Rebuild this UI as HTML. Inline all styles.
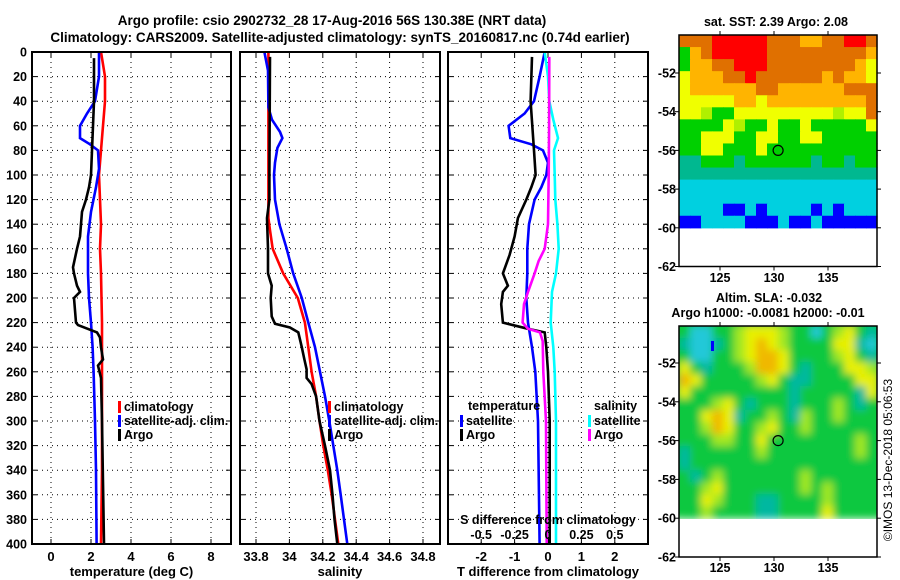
<!DOCTYPE html>
<html><head><meta charset="utf-8">
<style>
html,body{margin:0;padding:0;background:#fff;}
svg{display:block;font-family:"Liberation Sans",Arial,sans-serif;font-weight:bold;}
</style></head>
<body>
<svg id="fig" width="900" height="580" viewBox="0 0 900 580" xmlns="http://www.w3.org/2000/svg">
<defs>
<filter id="blur" x="-5%" y="-5%" width="110%" height="110%"><feGaussianBlur stdDeviation="4"/></filter>
<clipPath id="slaclip"><rect x="679" y="326" width="198" height="193"/></clipPath>
</defs>
<rect x="0" y="0" width="900" height="580" fill="#fff"/>
<text x="332" y="25" font-size="13.5" text-anchor="middle">Argo profile: csio 2902732_28 17-Aug-2016 56S 130.38E (NRT data)</text>
<text x="340" y="42" font-size="13.5" text-anchor="middle">Climatology: CARS2009. Satellite-adjusted climatology: synTS_20160817.nc (0.74d earlier)</text>
<g id="panels"></g>
<g id="maps"></g>
<text x="776" y="26" font-size="12.5" text-anchor="middle">sat. SST: 2.39 Argo: 2.08</text>
<text x="769" y="302" font-size="12.5" text-anchor="middle">Altim. SLA: -0.032</text>
<text x="768" y="317" font-size="12.5" text-anchor="middle">Argo h1000: -0.0081 h2000: -0.01</text>
<text x="0" y="0" font-size="12" font-weight="normal" text-anchor="middle" transform="translate(892,460) rotate(-90)">©IMOS 13-Dec-2018 05:06:53</text>
</svg>
<script>
// ---------- Profile data ----------
const depthTicks = [0,20,40,60,80,100,120,140,160,180,200,220,240,260,280,300,320,340,360,380,400];
const tempTicks = [0,2,4,6,8];
const salTicks = [33.8,34,34.2,34.4,34.6,34.8];
const salTickLabels = ["33.8","34","34.2","34.4","34.6","34.8"];
const tdiffTicks = [-2,-1,0,1,2];
const sdiffTicks = [-0.5,-0.25,0,0.25,0.5];
const sdiffTickLabels = ["-0.5","-0.25","0","0.25","0.5"];

const tClimDepth = [0,20,40,60,80,100,120,140,160,180,220,260,300,340,400];
const tClimVal   = [2.5,2.7,2.7,2.6,2.5,2.4,2.45,2.5,2.45,2.5,2.55,2.55,2.55,2.55,2.5];
const tSatDepth = [0,20,40,50,60,70,75,80,95,110,130,150,180,200,220,240,260,300,340,400];
const tSatVal   = [2.4,2.4,2.2,1.8,1.45,1.45,1.95,2.35,2.4,2.25,2.0,1.85,1.85,1.9,2.0,2.08,2.13,2.2,2.25,2.28];
const tArgoDepth = [5,40,60,80,100,110,120,130,150,160,175,180,190,195,200,210,220,222,228,232,240,250,255,265,300,400];
const tArgoVal   = [2.15,2.15,2.1,2.05,2.0,1.9,1.75,1.55,1.45,1.3,1.1,1.15,1.3,1.45,1.15,1.2,1.25,1.35,2.3,2.45,2.5,2.6,2.35,2.5,2.55,2.65];

const sClimDepth = [0,40,100,135,145,160,180,200,220,240,260,280,300,320,340,360,380,400];
const sClimVal   = [33.874,33.874,33.874,33.874,33.884,33.90,33.963,34.05,34.093,34.113,34.133,34.16,34.18,34.203,34.23,34.253,34.273,34.293];
const sSatDepth = [0,15,45,55,65,70,78,90,100,120,140,160,180,200,220,240,260,280,300,320,340,360,380,400];
const sSatVal   = [33.85,33.872,33.874,33.896,33.944,33.958,33.928,33.914,33.908,33.914,33.94,33.984,34.023,34.074,34.113,34.153,34.183,34.213,34.239,34.263,34.287,34.307,34.327,34.347];
const sArgoDepth = [4,100,120,135,160,180,190,200,215,221,224,228,240,250,258,265,270,280,300,320,340,360,380,400];
const sArgoVal   = [33.884,33.88,33.88,33.866,33.872,33.872,33.894,33.888,33.894,33.914,34.003,34.053,34.074,34.09,34.103,34.103,34.133,34.16,34.18,34.213,34.243,34.258,34.27,34.287];

const dTSatDepth = [0,20,40,50,60,70,75,80,90,100,110,120,140,160,180,200,220,240,260,300,400];
const dTSatVal   = [-0.1,-0.25,-0.42,-0.7,-1.18,-1.13,-0.5,-0.15,0,-0.05,-0.2,-0.4,-0.57,-0.62,-0.62,-0.65,-0.6,-0.48,-0.38,-0.3,-0.25];
const dTArgoDepth = [4,40,80,100,110,120,135,150,165,180,190,195,205,220,225,228,240,260,300,400];
const dTArgoVal   = [-0.48,-0.52,-0.42,-0.37,-0.5,-0.65,-0.9,-1.0,-1.15,-1.35,-1.2,-1.35,-1.4,-1.35,-0.6,-0.1,-0.05,0,0.05,0.05];
const dSSatDepth = [0,20,40,55,70,80,100,120,140,160,180,195,220,240,260,300,400];
const dSSatVal   = [-0.025,0,0.01,0.04,0.075,0.045,0.05,0.055,0.07,0.08,0.06,0.03,0.02,0.04,0.05,0.06,0.06];
const dSArgoDepth = [4,60,100,140,160,170,180,195,205,220,225,228,235,260,300,400];
const dSArgoVal   = [0.01,0.008,0.005,0,-0.025,-0.07,-0.1,-0.15,-0.18,-0.19,-0.15,-0.06,-0.04,-0.035,-0.015,-0.01];

// ---------- Map data ----------
const sstRows = [
"OOORRRRROOOAAOORRO",
"GAORRRRROOOOOOOOOA",
"GAAOORRROOOOOOOOAY",
"YAAAOOROOOOOOAOAAY",
"YAAAAAAOOAAAAAAOOO",
"YYYYYAAYAAAAAAAAAO",
"YYLGGYYYYYYYYYLYYO",
"GGGGYLGGYGGYGGGGGY",
"GGYYYGGYYGGYYGGGGG",
"GGYYGGGYGGGGGGGGGG",
"TTGGGTGGGGGGTGGTGG",
"TTTTTTTTTTTTTTTTTT",
"CCCCCCCCCCCCCCCCCC",
"CCCCCCCCCCCCCCCCCC",
"CCCCBBCBCCCCBCBCCC",
"BBCCCCBBBCBBCBBBBB"];
const slaRows = [
"GCCGGLYYYLGGCGLYGT",
"TCCTGLYAYLGGGGYYTC",
"GCCGGLYAAYGGGGLYGT",
"YGTGGGLAAYGTGGGYYL",
"AYGGGGGLYGTTGGGGYY",
"YGGGGGGGGGTGGGGGTY",
"GGGLYGTGGGTGGGLGTG",
"GGYAYTGGLGTLGGLGGG",
"GGLAYGGLYGGLGGGGGG",
"GGGLLGGYGGGGGGGGLG",
"TGGGGGGLGGGGGGGGLG",
"TGGGGGGGGGGGGGGGGG",
"GTGLGGGGGGGLGGGGGG",
"GGLYGGGGGGGLGLGGGG",
"GGYLGGGTTGGGGLGGGG",
"GGLGGGGTTGGGGYGGGG"];
const lonTicks = [125,130,135];
const latTicks = [-52,-54,-56,-58,-60,-62];
const argoLon = 130.38;
const argoLat = -56;

const NS = "http://www.w3.org/2000/svg";
function mk(tag, attrs, parent){const e=document.createElementNS(NS,tag);for(const k in attrs)e.setAttribute(k,attrs[k]);parent.appendChild(e);return e;}

const TOP=52, BOT=544;
function yD(d){return TOP+(BOT-TOP)*d/400;}
const panelsG=document.getElementById('panels');

function panel(name,x0,x1,fx,ticks,labels,xtitle){
  const g=mk('g',{},panelsG);
  
  
  depthTicks.forEach(d=>{ if(d>0&&d<400){const l=mk('line',{x1:x0,x2:x1,y1:yD(d),y2:yD(d),stroke:'#000','stroke-width':1,'stroke-dasharray':'1,4'},g);
    }
    mk('line',{x1:x0,x2:x0+5,y1:yD(d),y2:yD(d),stroke:'#000','stroke-width':1},g);
    mk('line',{x1:x1-5,x2:x1,y1:yD(d),y2:yD(d),stroke:'#000','stroke-width':1},g);
  });
  ticks.forEach((t,i)=>{const x=fx(t);
    const l=mk('line',{x1:x,x2:x,y1:TOP,y2:BOT,stroke:'#000','stroke-width':1,'stroke-dasharray':'1,4'},g);
    
    mk('line',{x1:x,x2:x,y1:BOT-5,y2:BOT,stroke:'#000','stroke-width':1},g);
    mk('line',{x1:x,x2:x,y1:TOP,y2:TOP+5,stroke:'#000','stroke-width':1},g);
    const tx=mk('text',{x:x,y:561,'font-size':13,'text-anchor':'middle'},g);tx.textContent=labels[i];
    
  });
  const tt=mk('text',{x:(x0+x1)/2,y:576,'font-size':13,'text-anchor':'middle'},g);tt.textContent=xtitle;
  
  return g;
}
function frame(g,x0,x1){const r=mk('rect',{x:x0,y:TOP,width:x1-x0,height:BOT-TOP,fill:'none',stroke:'#000','stroke-width':2},g);
  }
function line(g,name,depths,vals,fx,color){
  const pts=depths.map((d,i)=>fx(vals[i]).toFixed(1)+','+yD(d).toFixed(1)).join(' ');
  const p=mk('polyline',{points:pts,fill:'none',stroke:color,'stroke-width':2.6,'stroke-linejoin':'miter'},g);
  
  
}
function legend(g,x,y,color,label){
  if(color){const m=mk('rect',{x:x,y:y-10,width:3,height:12,fill:color},g);
    }
  const t=mk('text',{x:x+6,y:y,'font-size':12.5},g);t.textContent=label;
  
}

depthTicks.forEach(d=>{const t=mk('text',{x:27,y:yD(d)+4.5,'font-size':12.5,'text-anchor':'end'},panelsG);t.textContent=d;
  });

const fT=t=>51+20*t;
let g1=panel('temperature',32,231,fT,tempTicks,tempTicks.map(String),'temperature (deg C)');
line(g1,'temp-climatology-line',tClimDepth,tClimVal,fT,'#ff0000');
line(g1,'temp-satellite-line',tSatDepth,tSatVal,fT,'#0000ff');
line(g1,'temp-argo-line',tArgoDepth,tArgoVal,fT,'#000');
frame(g1,32,231);
legend(g1,118,411,'#ff0000','climatology');legend(g1,118,425,'#0000ff','satellite-adj. clim.');legend(g1,118,439,'#000','Argo');

const fS=s=>256+167*(s-33.8);
let g2=panel('salinity',240,440,fS,salTicks,salTickLabels,'salinity');
line(g2,'sal-climatology-line',sClimDepth,sClimVal,fS,'#ff0000');
line(g2,'sal-satellite-line',sSatDepth,sSatVal,fS,'#0000ff');
line(g2,'sal-argo-line',sArgoDepth,sArgoVal,fS,'#000');
frame(g2,240,440);
legend(g2,328,411,'#ff0000','climatology');legend(g2,328,425,'#0000ff','satellite-adj. clim.');legend(g2,328,439,'#000','Argo');

const fdT=v=>548+33.4*v;
const fdS=v=>548+133.6*v;
let g3=panel('difference',448,648,fdT,tdiffTicks,tdiffTicks.map(String),'T difference from climatology');
line(g3,'tdiff-satellite-line',dTSatDepth,dTSatVal,fdT,'#0000ff');
line(g3,'tdiff-argo-line',dTArgoDepth,dTArgoVal,fdT,'#000');
line(g3,'sdiff-satellite-line',dSSatDepth,dSSatVal,fdS,'#00ffff');
line(g3,'sdiff-argo-line',dSArgoDepth,dSArgoVal,fdS,'#ff00ff');
frame(g3,448,648);
legend(g3,462,410,null,'temperature');
legend(g3,460,425,'#0000ff','satellite');legend(g3,460,439,'#000','Argo');
legend(g3,588,410,null,'salinity');
legend(g3,588,425,'#00ffff','satellite');legend(g3,588,439,'#ff00ff','Argo');
{const t=mk('text',{x:548,y:524,'font-size':12.5,'text-anchor':'middle'},g3);t.textContent='S difference from climatology';
 }
sdiffTicks.forEach((v,i)=>{const t=mk('text',{x:fdS(v),y:539,'font-size':12.5,'text-anchor':'middle'},g3);t.textContent=sdiffTickLabels[i];
 });

// ---------- Maps ----------
const mapsG=document.getElementById('maps');
const sstCol={R:'#ff0000',O:'#e07000',A:'#ffb400',Y:'#f0ff00',L:'#b0f000',G:'#00d000',T:'#00b890',C:'#00d0e0',B:'#0000ff'};
const slaCol={G:'#10c840',L:'#a0e820',Y:'#e8f000',A:'#f0b800',T:'#00b8a0',C:'#20c8d8'};
const MX0=679,MX1=877;
const lonX=lon=>720+(lon-125)*10.8;
function drawMap(name,top,rows,cols,latY,lonLabelY,smooth){
  const g=mk('g',{},mapsG);
  
  
  const dataBot=latY(-60);
  const ch=(dataBot-top)/rows.length, cw=(MX1-MX0)/rows[0].length;
  let cg=g;
  if(smooth){const outer=mk('g',{'clip-path':'url(#slaclip)'},g);cg=mk('g',{filter:'url(#blur)'},outer);
    mk('rect',{x:MX0-10,y:top-10,width:MX1-MX0+20,height:dataBot-top+10,fill:'#10c840'},cg);}
  rows.forEach((r,ri)=>{for(let ci=0;ci<r.length;ci++){
    const c=mk('rect',{x:(MX0+ci*cw).toFixed(2),y:(top+ri*ch).toFixed(2),width:(cw+0.6).toFixed(2),height:(ch+0.6).toFixed(2),fill:cols[r[ci]]},cg);
    }});
  const bottom=latY(-62);
  const fr=mk('rect',{x:MX0,y:top,width:MX1-MX0,height:bottom-top,fill:'none',stroke:'#000','stroke-width':1.5},g);
  
  lonTicks.forEach(l=>{const x=lonX(l);
    mk('line',{x1:x,x2:x,y1:top-4,y2:top,stroke:'#000'},g);mk('line',{x1:x,x2:x,y1:bottom,y2:bottom+4,stroke:'#000'},g);
    const t=mk('text',{x:x,y:lonLabelY,'font-size':12.5,'text-anchor':'middle'},g);t.textContent=l;
    });
  latTicks.forEach(l=>{const y=latY(l);
    mk('line',{x1:MX0-4,x2:MX0,y1:y,y2:y,stroke:'#000'},g);mk('line',{x1:MX1,x2:MX1+4,y1:y,y2:y,stroke:'#000'},g);
    const t=mk('text',{x:676,y:y+4.5,'font-size':12.5,'text-anchor':'end'},g);t.textContent=l;
    });
  const c=mk('circle',{cx:lonX(argoLon),cy:latY(argoLat),r:5,fill:'none',stroke:'#000','stroke-width':1.2},g);
  
  return g;
}
drawMap('sst-map',35,sstRows,sstCol,lat=>73+(-52-lat)*19.35,282,false);
const sg=drawMap('sla-map',326,slaRows,slaCol,lat=>363+(-52-lat)*19.4,572,true);
{const b=mk('rect',{x:711,y:341,width:3,height:10,fill:'#0000ff'},sg);
 }
</script>
</body></html>
